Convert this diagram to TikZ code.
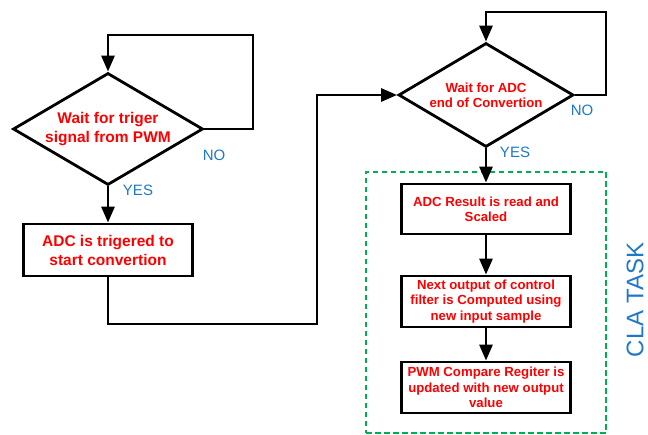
\documentclass[tikz,border=0pt]{standalone}
\usepackage{fontspec}
\setmainfont{Liberation Sans}
\usetikzlibrary{shapes.geometric,arrows.meta}
\definecolor{stepred}{RGB}{255,0,0}
\definecolor{lblblue}{RGB}{30,120,200}
\definecolor{taskgreen}{RGB}{0,176,80}
\begin{document}
\begin{tikzpicture}[x=1pt,y=-1pt,
  flow/.style={line width=2.8pt,line join=miter},
  arrow/.style={flow,-{Triangle[length=16pt,width=13pt]}},
  decision/.style={draw,diamond,line width=2.8pt,inner sep=0pt,
    text=stepred,align=center,font=\bfseries},
  stepbox/.style={draw,rectangle,line width=2.8pt,inner sep=0pt,
    minimum width=169pt,text=stepred,align=center,font=\bfseries},
  bigtxt/.style={font=\bfseries\fontsize{15.5}{19}\selectfont},
  smalltxt/.style={font=\bfseries\fontsize{13.2}{15.3}\selectfont},
  answer/.style={text=lblblue,font=\fontsize{15}{18}\selectfont,inner sep=0pt}]
\useasboundingbox (0,0) rectangle (648,435);

% left column: trigger wait and ADC start
\node[decision,bigtxt,minimum width=190pt,minimum height=112pt,aspect=1.7]
  (d1) at (108,129) {Wait for triger\\signal from PWM};
\node[stepbox,bigtxt,minimum height=52pt] (b1) at (108,250)
  {ADC is trigered to\\start convertion};

% right column: conversion wait and CLA task
\node[draw=taskgreen,dashed,dash pattern=on 5.5pt off 3.5pt,line width=2.4pt,
  minimum width=240pt,minimum height=261pt,inner sep=0pt] (task) at (486,302.5) {};
\node[decision,smalltxt,minimum width=175pt,minimum height=104pt,aspect=1.68]
  (d2) at (486,95) {Wait for ADC\\end of Convertion};
\node[stepbox,smalltxt,minimum height=50pt] (bA) at (486,209)
  {ADC Result is read and\\Scaled};
\node[stepbox,smalltxt,minimum height=51pt] (bB) at (486,301.5)
  {Next output of control\\filter is Computed using\\new input sample};
\node[stepbox,smalltxt,minimum height=51pt] (bC) at (486,387.5)
  {PWM Compare Regiter is\\updated with new output\\value};

\node[text=lblblue,rotate=90,font=\fontsize{24}{28}\selectfont,inner sep=0pt]
  (cla) at (635,300) {CLA TASK};

% branch labels
\node[answer] (no1) at (214,155) {NO};
\node[answer] (yes1) at (138,190) {YES};
\node[answer] (no2) at (582,110) {NO};
\node[answer] (yes2) at (515,152) {YES};

% routing points
\coordinate (l1) at (253,35);
\coordinate (j1) at (317,324);
\coordinate (l2) at (606,12);

% connectors
\draw[arrow] (d1.east) -| (l1) -| (d1.north);
\draw[arrow] (d1.south) -- (b1.north);
\draw[arrow] (b1.south) |- (j1) |- (d2.west);
\draw[arrow] (d2.east) -| (l2) -| (d2.north);
\draw[arrow] (d2.south) -- (bA.north);
\draw[arrow] (bA.south) -- (bB.north);
\draw[arrow] (bB.south) -- (bC.north);
\end{tikzpicture}
\end{document}
